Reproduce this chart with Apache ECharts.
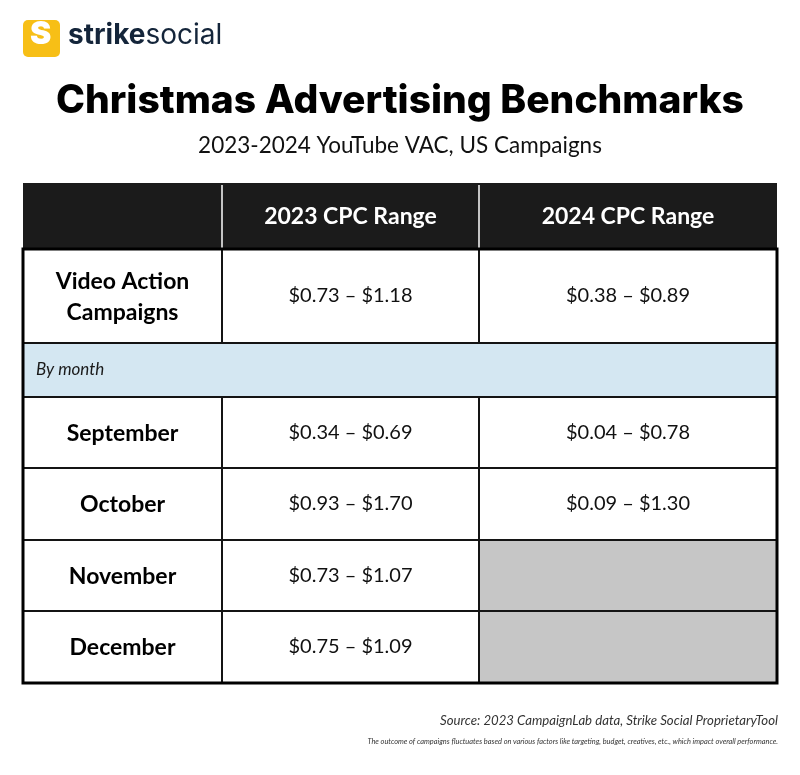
<!DOCTYPE html>
<html><head><meta charset="utf-8">
<script src="https://cdn.jsdelivr.net/npm/echarts@6/dist/echarts.min.js"></script>
<style>html,body{margin:0;padding:0;background:#fff}#c{width:800px;height:775px}</style>
</head><body><div id="c"></div>
<script>
// ---- data ----
const columnHeaders = ['', '2023 CPC Range', '2024 CPC Range'];
const rowLabels = ['Video Action\nCampaigns', 'September', 'October', 'November', 'December'];
const low2023  = [0.73, 0.34, 0.93, 0.73, 0.75];
const high2023 = [1.18, 0.69, 1.70, 1.07, 1.09];
const low2024  = [0.38, 0.04, 0.09, null, null];
const high2024 = [0.89, 0.78, 1.30, null, null];
const sectionLabel = 'By month';

// ---- layout (table units) ----
const colEdges = [0, 199, 456, 754];
const rowEdges = [0, 66, 160, 214, 285, 357, 428, 500];
const bodyRows = [1, 3, 4, 5, 6];

const fmt = (a, b) => '$' + a.toFixed(2) + ' \u2013 $' + b.toFixed(2);

const cells = [];
const texts = [];
function add(c0, c1, r, kind, t) { cells.push([c0, c1, r, kind]); texts.push(t); }
for (let c = 0; c < 3; c++) add(c, c + 1, 0, 0, columnHeaders[c]);
add(0, 3, 2, 2, sectionLabel);
rowLabels.forEach((lab, i) => {
  const r = bodyRows[i];
  add(0, 1, r, 1, lab);
  add(1, 2, r, 3, fmt(low2023[i], high2023[i]));
  if (low2024[i] == null) add(2, 3, r, 4, '');
  else add(2, 3, r, 3, fmt(low2024[i], high2024[i]));
});
add(0, 3, -1, 5, ''); // frame

const chart = echarts.init(document.getElementById('c'), null, { renderer: 'canvas' });
const FONT = 'Lato, "Noto Sans", sans-serif';

function renderItem(params, api) {
  const c0 = api.value(0), c1 = api.value(1), r = api.value(2), kind = api.value(3);
  const t = texts[params.dataIndex];
  if (kind === 5) {
    const p0 = api.coord([colEdges[0], rowEdges[1]]);
    const p1 = api.coord([colEdges[3], rowEdges[rowEdges.length - 1]]);
    return { type: 'rect', z2: 50, shape: { x: p0[0], y: p0[1], width: p1[0] - p0[0], height: p1[1] - p0[1] },
      style: { fill: 'none', stroke: '#000', lineWidth: 3 } };
  }
  const p0 = api.coord([colEdges[c0], rowEdges[r]]);
  const p1 = api.coord([colEdges[c1], rowEdges[r + 1]]);
  const x = p0[0], y = p0[1], w = p1[0] - p0[0], h = p1[1] - p0[1];
  const children = [];
  if (kind === 0) {
    children.push({ type: 'rect', shape: { x: x, y: y, width: w, height: h }, style: { fill: '#1b1b1b' } });
    if (c0 > 0) children.push({ type: 'line', z2: 5, shape: { x1: x, y1: y + 2, x2: x, y2: y + h }, style: { stroke: '#c4c4c4', lineWidth: 2 } });
    children.push({ type: 'text', z2: 10, style: { text: t, x: x + w / 2, y: y + h / 2 + 1, align: 'center', verticalAlign: 'middle',
      fill: '#fff', font: 'bold 23px ' + FONT } });
  } else {
    const fill = kind === 2 ? '#d4e7f2' : (kind === 4 ? '#c6c6c6' : '#fff');
    children.push({ type: 'rect', shape: { x: x, y: y, width: w, height: h }, style: { fill: fill, stroke: '#141414', lineWidth: 2 } });
    if (kind === 1) children.push({ type: 'text', z2: 10, style: { text: t, x: x + w / 2, y: y + h / 2 + 1, align: 'center', verticalAlign: 'middle',
      fill: '#000', font: 'bold 23px ' + FONT, lineHeight: 31 } });
    if (kind === 2) children.push({ type: 'text', z2: 10, style: { text: t, x: x + 13, y: y + h / 2, align: 'left', verticalAlign: 'middle',
      fill: '#1a1a1a', font: 'italic 17px ' + FONT } });
    if (kind === 3) children.push({ type: 'text', z2: 10, style: { text: t, x: x + w / 2, y: y + h / 2, align: 'center', verticalAlign: 'middle',
      fill: '#111', font: '20px ' + FONT } });
  }
  return { type: 'group', children: children };
}

chart.setOption({
  backgroundColor: '#fff',
  animation: false,
  grid: { left: 23, right: 23, top: 183, bottom: 92 },
  xAxis: { type: 'value', min: colEdges[0], max: colEdges[3], show: false },
  yAxis: { type: 'value', min: rowEdges[0], max: rowEdges[rowEdges.length - 1], inverse: true, show: false },
  series: [{ type: 'custom', renderItem: renderItem, data: cells, clip: false,
    encode: { x: [0, 1], y: 2 } }],
  graphic: [
    { type: 'rect', left: 23, top: 20, shape: { width: 37, height: 37, r: 5 }, style: { fill: '#f7bf16' } },
    { type: 'text', left: 30, top: 18, style: { text: 'S', fill: '#fff', font: '900 32px Inter, sans-serif' } },
    { type: 'text', left: 68, top: 22, style: { rich: {
        a: { fontFamily: 'Inter, sans-serif', fontWeight: 'bold', fontSize: 28, fill: '#14253a' },
        b: { fontFamily: 'Inter, sans-serif', fontWeight: 'normal', fontSize: 28, fill: '#14253a' } },
        text: '{a|strike}{b|social}' } },
    { type: 'text', left: 'center', top: 82, style: { text: 'Christmas Advertising Benchmarks', fill: '#000',
        font: '800 39px Inter, "Open Sans", sans-serif' } },
    { type: 'text', left: 'center', top: 134, style: { text: '2023-2024 YouTube VAC, US Campaigns', fill: '#111',
        font: '22.5px ' + FONT } },
    { type: 'text', right: 22, top: 714, style: { text: 'Source: 2023 CampaignLab data, Strike Social ProprietaryTool', fill: '#333',
        font: 'italic 13.2px ' + FONT } },
    { type: 'text', right: 22, top: 738, style: { text: 'The outcome of campaigns fluctuates based on various factors like targeting, budget, creatives, etc., which impact overall performance.', fill: '#333',
        font: 'italic 7.4px ' + FONT } }
  ]
});
</script></body></html>
